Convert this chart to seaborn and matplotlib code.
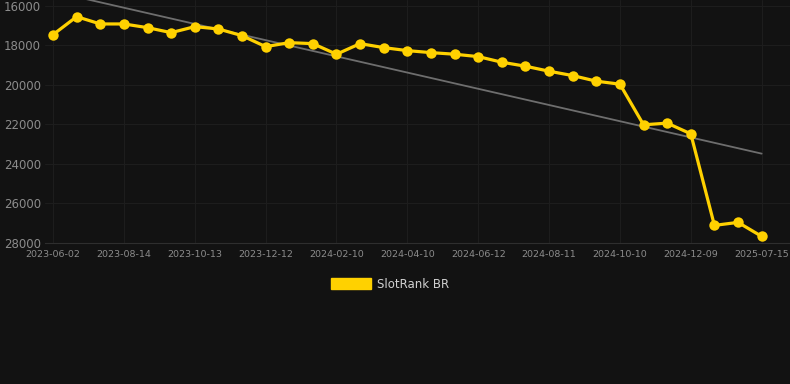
import numpy as np
import pandas as pd
import matplotlib
matplotlib.use("Agg")
import matplotlib.pyplot as plt
import seaborn as sns
from matplotlib.patches import Patch

# rank per observation (lower is better, y axis inverted)
ranks = [17451, 16541, 16910, 16910, 17097, 17350, 17047, 17163, 17502, 18058,
         17856, 17906, 18442, 17906, 18108, 18260, 18361, 18442, 18563, 18847,
         19049, 19302, 19524, 19807, 19959, 22016, 21931, 22472, 27108, 26956,
         27664]
tick_labels = ["2023-06-02", "2023-08-14", "2023-10-13", "2023-12-12", "2024-02-10",
               "2024-04-10", "2024-06-12", "2024-08-11", "2024-10-10", "2024-12-09",
               "2025-07-15"]
series_name = "SlotRank BR"

bg = "#121212"
yellow = "#FFD100"

sns.set_style("dark")
plt.rcParams["font.family"] = ["DejaVu Sans"]

df = pd.DataFrame({"idx": np.arange(len(ranks)), "rank": ranks})

fig = plt.figure(figsize=(7.9, 3.84), dpi=100, facecolor=bg)
ax = fig.add_axes([45 / 790, 1 - 243 / 384, 1 - 45 / 790, 243 / 384])
ax.set_facecolor(bg)

# linear trend line
coef = np.polyfit(df["idx"], df["rank"], 1)
df["trend"] = np.polyval(coef, df["idx"])
sns.lineplot(data=df, x="idx", y="trend", ax=ax, color="#6e6e6e", linewidth=1.3, zorder=2)

sns.lineplot(data=df, x="idx", y="rank", ax=ax, color=yellow, linewidth=2.3,
             marker="o", markersize=7.5, markeredgewidth=0, zorder=3)

ax.set_ylim(28000, 15697)
ax.set_xlim(-0.34, 31.2)
ax.set_yticks([16000, 18000, 20000, 22000, 24000, 26000, 28000])
ax.set_xticks(np.arange(0, len(ranks), 3))
ax.set_xticklabels(tick_labels)
ax.set_xlabel("")
ax.set_ylabel("")

ax.grid(True, color="#1d1d1d", linewidth=0.8)
ax.tick_params(axis="y", colors="#8c8c8c", labelsize=8.5, length=0, pad=3)
ax.tick_params(axis="x", colors="#8c8c8c", labelsize=6.8, length=0, pad=5)
for side in ["top", "right", "left"]:
    ax.spines[side].set_visible(False)
ax.spines["bottom"].set_color("#2e2e2e")
ax.spines["bottom"].set_linewidth(0.8)

handle = Patch(facecolor=yellow, edgecolor=yellow)
leg = fig.legend([handle], [series_name], loc="center", bbox_to_anchor=(390 / 790, 1 - 284 / 384),
                 frameon=False, fontsize=8.5, handlelength=3.4, handleheight=1.0,
                 handletextpad=0.5)
for t in leg.get_texts():
    t.set_color("#d0d0d0")

fig.savefig("out.png", dpi=100, facecolor=bg)
